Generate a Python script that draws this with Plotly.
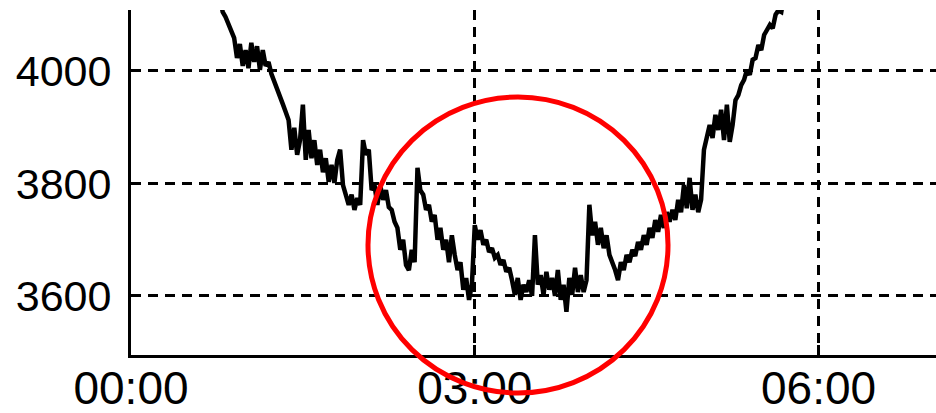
import plotly.graph_objects as go

# Sampling clock of the series (minutes after 00:00)
SAMPLE_START_MIN = 46.5
SAMPLE_STEP_MIN = 1.5

values = [
    4135, 4105, 4096, 4084, 4071, 4059, 4023, 4048, 4009, 4037,
    4005, 4050, 4016, 4044, 4002, 4037, 4009, 4016, 3995, 3980,
    3970, 3952, 3941, 3927, 3913, 3860, 3899, 3851, 3877, 3940,
    3842, 3895, 3845, 3877, 3833, 3860, 3820, 3845, 3803, 3833,
    3801, 3842, 3860, 3797, 3780, 3762, 3780, 3753, 3774, 3762,
    3877, 3851, 3860, 3788, 3797, 3762, 3797, 3771, 3788, 3758,
    3753, 3732, 3721, 3682, 3700, 3655, 3646, 3682, 3660, 3828,
    3788, 3780, 3753, 3762, 3732, 3744, 3700, 3721, 3682, 3700,
    3660, 3708, 3673, 3646, 3660, 3611, 3632, 3593, 3620, 3726,
    3700, 3717, 3691, 3700, 3678, 3685, 3668, 3673, 3655, 3664,
    3643, 3650, 3628, 3602, 3632, 3593, 3620, 3607, 3628, 3600,
    3708, 3620, 3637, 3602, 3643, 3611, 3632, 3600, 3646, 3593,
    3620, 3572, 3632, 3602, 3650, 3607, 3637, 3607, 3628, 3762,
    3708, 3732, 3691, 3721, 3685, 3708, 3673, 3660, 3646, 3628,
    3660, 3646, 3673, 3660, 3682, 3671, 3696, 3682, 3708, 3691,
    3721, 3703, 3735, 3714, 3744, 3721, 3749, 3732, 3753, 3735,
    3771, 3749, 3797, 3756, 3810, 3753, 3780, 3749, 3771, 3860,
    3886, 3904, 3881, 3922, 3895, 3931, 3877, 3940, 3874, 3904,
    3948, 3957, 3975, 3984, 4002, 3993, 4020, 4023, 4046, 4037,
    4064, 4073, 4082, 4076, 4100, 4108, 4105, 4135,
]
minutes = [SAMPLE_START_MIN + SAMPLE_STEP_MIN * i for i in range(len(values))]

x_tick_vals = [0, 180, 360]
x_tick_text = ["00:00", "03:00", "06:00"]
y_tick_vals = [3600, 3800, 4000]
y_tick_text = ["3600", "3800", "4000"]

x_range = [0, 421.5]
y_range = [3495, 4108.4]

fig = go.Figure()
fig.add_trace(go.Scatter(
    x=minutes, y=values, mode="lines",
    line=dict(color="black", width=4.5),
    hoverinfo="skip", showlegend=False,
))

# Red highlight circle (annotation)
fig.add_shape(
    type="circle", xref="paper", yref="paper",
    x0=0.2944, x1=0.6671, y0=-0.1101, y1=0.7478,
    line=dict(color="#ff0000", width=5), layer="above",
)

x_font = dict(family="Liberation Sans, Arial, sans-serif", size=46, color="black")
y_font = dict(family="Liberation Sans, Arial, sans-serif", size=43, color="black")

fig.update_xaxes(
    range=x_range, tickvals=x_tick_vals, ticktext=x_tick_text,
    showgrid=True, gridcolor="black", gridwidth=3, griddash="10px,7px",
    showline=True, linecolor="black", linewidth=3,
    ticks="inside", ticklen=10, tickwidth=3, tickcolor="black",
    tickfont=x_font, ticklabelstandoff=-9, zeroline=False,
    automargin=False, fixedrange=True,
)
fig.update_yaxes(
    range=y_range, tickvals=y_tick_vals, ticktext=y_tick_text,
    showgrid=True, gridcolor="black", gridwidth=3, griddash="10px,7px",
    showline=True, linecolor="black", linewidth=3,
    ticks="inside", ticklen=10, tickwidth=3, tickcolor="black",
    tickfont=y_font, ticklabelstandoff=8, zeroline=False,
    automargin=False, fixedrange=True,
)

fig.update_layout(
    width=936, height=413,
    margin=dict(l=131, r=0, t=10, b=58, pad=0, autoexpand=False),
    paper_bgcolor="white", plot_bgcolor="white",
    showlegend=False,
)

fig.write_html(
    "out.html",
    config={"displayModeBar": False},
    post_script=(
        "document.body.style.margin='0';"
        "document.body.style.overflow='hidden';"
        "document.documentElement.style.overflow='hidden';"
    ),
)
